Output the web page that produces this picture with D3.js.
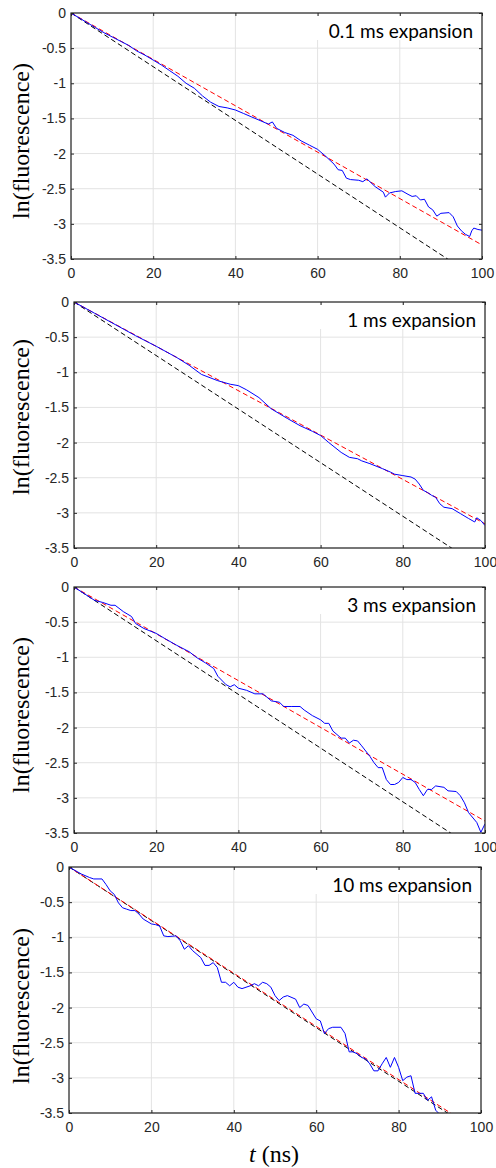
<!DOCTYPE html>
<html>
<head>
<meta charset="utf-8">
<script src="https://cdn.jsdelivr.net/npm/d3@7"></script>
<style>
  html, body { margin: 0; padding: 0; background: #fff; }
  svg { display: block; }
</style>
</head>
<body>
<svg id="chart" width="496" height="1168"></svg>
<script>
// ---------------- data ----------------
const tTicks = [0, 20, 40, 60, 80, 100];
const tTickLabels = ["0", "20", "40", "60", "80", "100"];
const yTicks = [0, -0.5, -1, -1.5, -2, -2.5, -3, -3.5];
const yTickLabels = ["0", "-0.5", "-1", "-1.5", "-2", "-2.5", "-3", "-3.5"];
const panelTitles = ["0.1 ms expansion", "1 ms expansion", "3 ms expansion", "10 ms expansion"];
const yLabel = "ln(fluorescence)";

// dashed reference lines: value at t = 100 ns (lines start at 0,0)
const blackLineEnd = [-3.82, -3.81, -3.82, -3.81];
const redLineEnd = [-3.30, -3.155, -3.33, -3.78];

// measured curves (blue)
const blue1T = [0,2,4,6,8,10,12,14,16,18,20,22,24,26,28,30,32,34,36,38,40,42,44,46,48,49,50,52,54,56,58,60,62,64,65,66,67,68,70,71,72,74,76,76.5,77.5,79,80.5,82,83,84,85,86,87,88,89,90,92,93,94,95,96,97,97.5,98,99,100];
const blue1V = [0,-0.07,-0.14,-0.21,-0.28,-0.34,-0.40,-0.46,-0.54,-0.60,-0.67,-0.74,-0.82,-0.90,-1.00,-1.07,-1.18,-1.27,-1.33,-1.35,-1.38,-1.43,-1.48,-1.53,-1.58,-1.55,-1.64,-1.70,-1.74,-1.82,-1.88,-1.94,-2.04,-2.15,-2.23,-2.24,-2.35,-2.37,-2.38,-2.40,-2.36,-2.47,-2.55,-2.62,-2.56,-2.54,-2.53,-2.58,-2.61,-2.60,-2.66,-2.65,-2.76,-2.80,-2.89,-2.85,-2.84,-2.90,-3.03,-3.10,-3.15,-3.18,-3.10,-3.06,-3.08,-3.09];

const blue2T = [0,5,10,15,20,25,28,31,35,38,40,42,45,48,50,52,55,58,60,62,65,67,69,70,72,75,77,78,80,82,83,84,85,86,87,88,89,90,92,94,96,97.5,98,99,100];
const blue2V = [0,-0.16,-0.32,-0.48,-0.63,-0.79,-0.90,-1.03,-1.12,-1.17,-1.19,-1.25,-1.36,-1.52,-1.59,-1.66,-1.76,-1.84,-1.90,-2.00,-2.14,-2.21,-2.23,-2.26,-2.30,-2.37,-2.42,-2.45,-2.47,-2.49,-2.52,-2.59,-2.68,-2.71,-2.75,-2.78,-2.87,-2.92,-2.94,-3.01,-3.08,-3.13,-3.07,-3.11,-3.18];

const blue3T = [0,5,7,9,10,12,14,15,17,20,22,25,28,30,32,34,35,37,38,39,40,42,44,46,48,50,51,53,55,56,58,60,61,62,63,65,66,67,68,69,70,72,73,74,75,76,77,78,79,80,81,82,83,84,85,86,87,88,90,91,93,94,95,96,98,99,100];
const blue3V = [0,-0.19,-0.22,-0.26,-0.26,-0.35,-0.42,-0.52,-0.59,-0.66,-0.73,-0.83,-0.92,-1.01,-1.08,-1.16,-1.27,-1.39,-1.42,-1.39,-1.44,-1.47,-1.52,-1.52,-1.62,-1.64,-1.70,-1.70,-1.70,-1.75,-1.83,-1.89,-1.94,-1.94,-2.05,-2.15,-2.15,-2.22,-2.18,-2.19,-2.26,-2.41,-2.50,-2.57,-2.57,-2.74,-2.81,-2.81,-2.78,-2.71,-2.74,-2.74,-2.78,-2.88,-2.97,-2.88,-2.88,-2.83,-2.85,-2.90,-2.91,-2.97,-3.07,-3.21,-3.35,-3.49,-3.37];

const blue4T = [0,3,5,6,8,9,10,11,12,13,14,15,16,17,18,20,21,22,23,24,26,27,28,29,30,32,33,34,35,36,37,38,39,40,41,42,44,45,46,47,48,49,50,51,52,53,55,56,57,58,60,61,62,63,64,66,67,68,69,70,71,72,73,74,75,76,77,78,79,80,81,82,83,84,85,86,87,88,89,90,91];
const blue4V = [0,-0.10,-0.15,-0.17,-0.17,-0.25,-0.34,-0.39,-0.51,-0.58,-0.60,-0.62,-0.62,-0.67,-0.74,-0.81,-0.82,-0.84,-0.98,-0.99,-0.98,-1.05,-1.17,-1.12,-1.19,-1.29,-1.40,-1.40,-1.36,-1.43,-1.64,-1.64,-1.69,-1.64,-1.71,-1.73,-1.69,-1.66,-1.69,-1.64,-1.66,-1.71,-1.83,-1.90,-1.85,-1.83,-1.88,-2.00,-1.95,-1.97,-2.16,-2.19,-2.37,-2.30,-2.28,-2.28,-2.37,-2.63,-2.63,-2.66,-2.71,-2.73,-2.80,-2.90,-2.90,-2.80,-2.71,-2.85,-2.71,-2.85,-3.04,-2.99,-2.97,-3.22,-3.22,-3.22,-3.32,-3.27,-3.46,-3.52,-3.62];

const blueT = [blue1T, blue2T, blue3T, blue4T];
const blueV = [blue1V, blue2V, blue3V, blue4V];

// ---------------- layout ----------------
const panels = [
  { left: 71, right: 482, top: 13, bottom: 259, labelY: 141 },
  { left: 74, right: 485, top: 302, bottom: 548, labelY: 417 },
  { left: 74, right: 485, top: 587, bottom: 833, labelY: 715 },
  { left: 69, right: 481, top: 867, bottom: 1113, labelY: 1006 }
];

const svg = d3.select("#chart");
const axisColor = "#262626";
const gridColor = "#e3e3e3";

panels.forEach((p, i) => {
  const x = d3.scaleLinear().domain([0, 100]).range([p.left, p.right]);
  const y = d3.scaleLinear().domain([-3.5, 0]).range([p.bottom, p.top]);
  const g = svg.append("g");

  const clipId = "clip" + i;
  svg.append("clipPath").attr("id", clipId)
    .append("rect")
    .attr("x", p.left).attr("y", p.top)
    .attr("width", p.right - p.left).attr("height", p.bottom - p.top);

  // grid
  g.append("g").selectAll("line.vx").data(tTicks).join("line")
    .attr("x1", d => x(d)).attr("x2", d => x(d))
    .attr("y1", p.top).attr("y2", p.bottom)
    .attr("stroke", gridColor).attr("stroke-width", 1);
  g.append("g").selectAll("line.hy").data(yTicks).join("line")
    .attr("x1", p.left).attr("x2", p.right)
    .attr("y1", d => y(d)).attr("y2", d => y(d))
    .attr("stroke", gridColor).attr("stroke-width", 1);

  // title box (white background)
  const titleRight = p.right - 9;
  g.append("rect")
    .attr("x", p.right - 168).attr("y", p.top + 3)
    .attr("width", 166).attr("height", 24)
    .attr("fill", "#fff");
  g.append("text")
    .attr("x", titleRight).attr("y", p.top + 25)
    .attr("text-anchor", "end")
    .attr("font-family", "Lato, 'Open Sans', sans-serif")
    .attr("font-size", 19)
    .attr("fill", "#000")
    .text(panelTitles[i]);

  const plot = g.append("g").attr("clip-path", `url(#${clipId})`);

  // black dashed
  plot.append("line")
    .attr("x1", x(0)).attr("y1", y(0))
    .attr("x2", x(100)).attr("y2", y(blackLineEnd[i]))
    .attr("stroke", "#000").attr("stroke-width", 1)
    .attr("stroke-dasharray", "5,3");
  // red dashed
  plot.append("line")
    .attr("x1", x(0)).attr("y1", y(0))
    .attr("x2", x(100)).attr("y2", y(redLineEnd[i]))
    .attr("stroke", "#ff0000").attr("stroke-width", 1)
    .attr("stroke-dasharray", "5,3")
    .attr("stroke-dashoffset", i === 3 ? 2 : 0);

  // blue curve
  const pts = blueT[i].map((t, k) => [t, blueV[i][k]]);
  plot.append("path")
    .datum(pts)
    .attr("d", d3.line().x(d => x(d[0])).y(d => y(d[1])))
    .attr("fill", "none")
    .attr("stroke", "#0000ff")
    .attr("stroke-width", 1);

  // axes (ticks inward)
  const fmtX = d => tTickLabels[tTicks.indexOf(d)];
  const fmtY = d => yTickLabels[yTicks.indexOf(d)];

  const styleAxis = sel => {
    sel.select(".domain").remove();
    sel.selectAll("line").attr("stroke", axisColor);
    sel.selectAll("text")
      .attr("fill", axisColor)
      .attr("font-family", "'Liberation Sans', Arial, Helvetica, sans-serif")
      .attr("font-size", 14);
  };

  svg.append("g").attr("transform", `translate(0,${p.bottom})`)
    .call(d3.axisBottom(x).tickValues(tTicks).tickFormat(fmtX).tickSize(-3).tickPadding(9))
    .call(styleAxis);
  svg.append("g").attr("transform", `translate(0,${p.top})`)
    .call(d3.axisTop(x).tickValues(tTicks).tickFormat("").tickSize(-3))
    .call(styleAxis);
  svg.append("g").attr("transform", `translate(${p.left},0)`)
    .call(d3.axisLeft(y).tickValues(yTicks).tickFormat(fmtY).tickSize(-3).tickPadding(5))
    .call(styleAxis);
  svg.append("g").attr("transform", `translate(${p.right},0)`)
    .call(d3.axisRight(y).tickValues(yTicks).tickFormat("").tickSize(-3))
    .call(styleAxis);

  // frame
  svg.append("rect")
    .attr("x", p.left).attr("y", p.top)
    .attr("width", p.right - p.left).attr("height", p.bottom - p.top)
    .attr("fill", "none").attr("stroke", axisColor).attr("stroke-width", 1.2);

  // y label
  svg.append("text")
    .attr("transform", `translate(29,${p.labelY}) rotate(-90)`)
    .attr("text-anchor", "middle")
    .attr("font-family", "'Liberation Serif', 'Times New Roman', serif")
    .attr("font-size", 24)
    .attr("fill", "#000")
    .text(yLabel);
});

// x label (bottom panel only)
const xl = svg.append("text")
  .attr("x", 274).attr("y", 1162)
  .attr("text-anchor", "middle")
  .attr("font-family", "'Liberation Serif', 'Times New Roman', serif")
  .attr("font-size", 24)
  .attr("fill", "#000");
xl.append("tspan").attr("font-style", "italic").text("t");
xl.append("tspan").text(" (ns)");
</script>
</body>
</html>
